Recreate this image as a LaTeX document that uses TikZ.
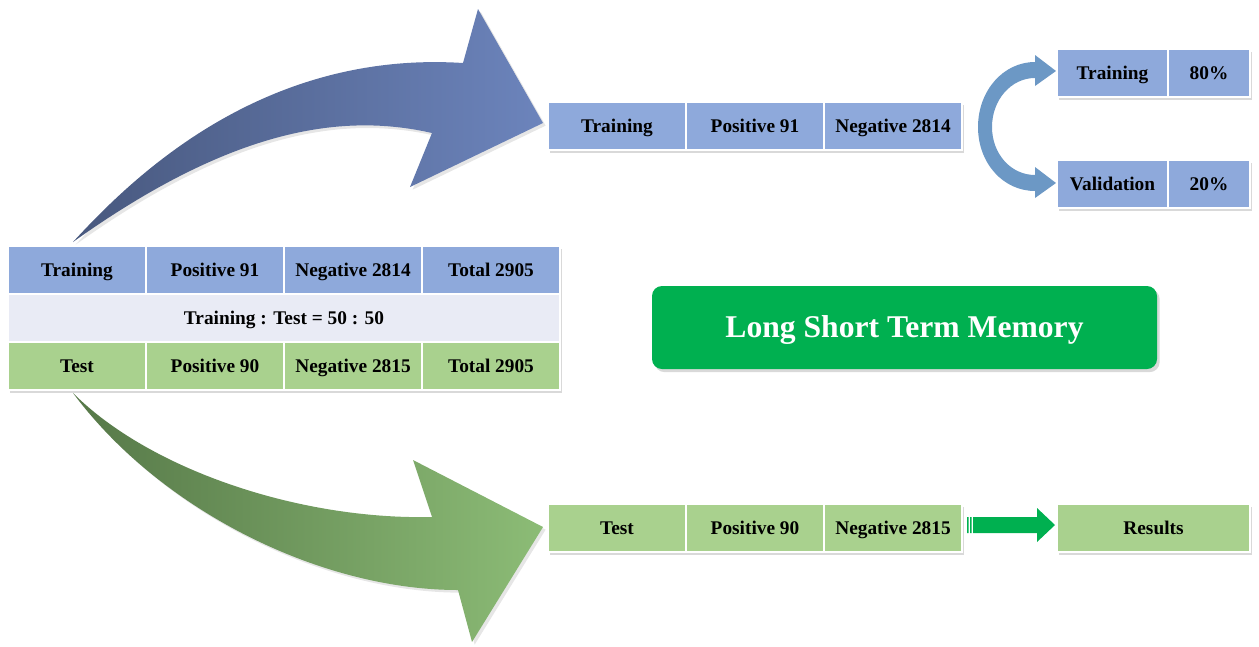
\documentclass[tikz,border=0pt]{standalone}
\usepackage{fontspec}
\setmainfont{Liberation Serif}
\usepackage{xcolor}
\usepackage{tikz}
\usetikzlibrary{positioning,shadows}

\definecolor{trainblue}{RGB}{142,169,219}
\definecolor{testgreen}{RGB}{169,209,142}
\definecolor{ratiogray}{RGB}{233,235,245}
\definecolor{lstmgreen}{RGB}{0,176,80}
\definecolor{splitblue}{RGB}{108,152,197}
\definecolor{bluedark}{RGB}{72,88,126}
\definecolor{bluelight}{RGB}{108,132,188}
\definecolor{greendark}{RGB}{86,120,72}
\definecolor{greenlight}{RGB}{140,188,118}

\begin{document}
\begin{tikzpicture}[x=0.2mm,y=-0.2mm,
  font=\bfseries\fontsize{11}{13}\selectfont,
  cell/.style={rectangle,draw=white,line width=0.8pt,outer sep=0pt,inner sep=0pt,
    minimum width=27.6mm,minimum height=9.6mm,text height=7.3pt,text depth=0pt,
    drop shadow={shadow xshift=1.2pt,shadow yshift=-1.6pt,opacity=0.3}},
  tr/.style={cell,fill=trainblue},
  te/.style={cell,fill=testgreen},
  bigarrow/.style={drop shadow={shadow xshift=1.5pt,shadow yshift=-1.5pt,opacity=0.2}}]
\useasboundingbox (0,0) rectangle (1259,646);

% curved arrows out of the table
\path[bigarrow,left color=bluedark,right color=bluelight]
  (73,242) .. controls (130,180) and (260,50) .. (463,63)
  -- (478,9) -- (543,123) -- (410,187) -- (432,133)
  .. controls (340,112) and (230,130) .. (73,242) -- cycle;
\path[bigarrow,left color=greendark,right color=greenlight]
  (73,393) .. controls (150,470) and (300,520) .. (432,517)
  -- (413,460) -- (543,527) -- (472,642) -- (458,590)
  .. controls (320,590) and (160,510) .. (73,393) -- cycle;

% whole data set
\node[tr] (all-tr) at (77,270) {Training};
\node[tr,right=0pt of all-tr] (all-trp) {Positive 91};
\node[tr,right=0pt of all-trp] (all-trn) {Negative 2814};
\node[tr,right=0pt of all-trn] (all-trt) {Total 2905};
\node[cell,fill=ratiogray,minimum width=110.4mm] (ratio) at (284,318) {Training : Test = 50 : 50};
\node[te] (all-te) at (77,366) {Test};
\node[te,right=0pt of all-te] (all-tep) {Positive 90};
\node[te,right=0pt of all-tep] (all-ten) {Negative 2815};
\node[te,right=0pt of all-ten] (all-tet) {Total 2905};

% training part
\node[tr] (trn) at (617,126) {Training};
\node[tr,right=0pt of trn] (trn-p) {Positive 91};
\node[tr,right=0pt of trn-p] (trn-n) {Negative 2814};

% training / validation split
\fill[splitblue] (1035,78) -- (1035,86) -- (1056,71) -- (1035,55) -- (1035,62)
  .. controls (1003,62) and (978,91) .. (978,127)
  .. controls (978,163) and (1003,191) .. (1035,191)
  -- (1035,198) -- (1056,183) -- (1035,167) -- (1035,175)
  .. controls (1011,175) and (992,154) .. (992,127)
  .. controls (992,100) and (1011,78) .. (1035,78) -- cycle;
\node[tr,minimum width=22.2mm] (sp-tr) at (1112.5,73) {Training};
\node[tr,minimum width=16.4mm,right=0pt of sp-tr] (sp-trv) {80\%};
\node[tr,minimum width=22.2mm] (sp-va) at (1112.5,184) {Validation};
\node[tr,minimum width=16.4mm,right=0pt of sp-va] (sp-vav) {20\%};

% model
\node[rectangle,rounded corners=2mm,fill=lstmgreen,text=white,
  minimum width=101mm,minimum height=16.6mm,text height=11.6pt,text depth=0pt,
  drop shadow={shadow xshift=1.5pt,shadow yshift=-1.8pt,opacity=0.3},
  font=\bfseries\fontsize{18}{21}\selectfont] (lstm) at (904.5,327.5) {Long Short Term Memory};

% test part
\node[te] (tst) at (617,528) {Test};
\node[te,right=0pt of tst] (tst-p) {Positive 90};
\node[te,right=0pt of tst-p] (tst-n) {Negative 2815};
\fill[lstmgreen] (967,517) rectangle (968.5,533) (970,517) rectangle (971.5,533);
\fill[lstmgreen] (973,517) -- (1037,517) -- (1037,508) -- (1055,525)
  -- (1037,542) -- (1037,533) -- (973,533) -- cycle;
\node[te,minimum width=38.6mm] (res) at (1153.5,528) {Results};
\end{tikzpicture}
\end{document}
